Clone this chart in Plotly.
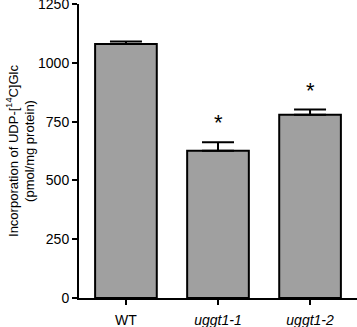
import plotly.graph_objects as go

categories = ["WT", "uggt1-1", "uggt1-2"]
tick_labels = ["WT", "<i>uggt1-1</i>", "<i>uggt1-2</i>"]
values = [1080, 626, 779]
errors = [11, 36, 22]
signif = ["", "*", "*"]

x_pos = list(range(len(categories)))

fig = go.Figure()
fig.add_trace(go.Bar(
    x=x_pos, y=values, width=0.67,
    marker=dict(color="#a0a0a0", line=dict(color="black", width=2)),
    error_y=dict(type="data", array=errors, arrayminus=[0] * len(errors),
                 symmetric=False, color="black", thickness=2, width=16),
    showlegend=False,
))
for i, s in enumerate(signif):
    if s:
        fig.add_annotation(
            x=x_pos[i], y=values[i] + errors[i], text=s, showarrow=False,
            yanchor="bottom", yshift=5,
            font=dict(size=22, color="black", family="Liberation Sans"),
        )

fig.update_layout(
    width=357, height=327,
    margin=dict(l=79, r=0, t=4, b=29),
    plot_bgcolor="white", paper_bgcolor="white",
    font=dict(family="Liberation Sans", size=14, color="black"),
    bargap=0.33,
)
fig.update_xaxes(
    range=[-0.51, 2.51], tickmode="array", tickvals=x_pos, ticktext=tick_labels,
    showline=True, linecolor="black", linewidth=2, ticks="outside",
    ticklen=5, tickwidth=2, tickcolor="black", showgrid=False, zeroline=False,
    automargin=False, ticklabelstandoff=3,
)
fig.update_yaxes(
    range=[0, 1250], tickvals=[0, 250, 500, 750, 1000, 1250],
    showline=True, linecolor="black", linewidth=2, ticks="outside",
    ticklen=5, tickwidth=2, tickcolor="black", showgrid=False, zeroline=False,
    automargin=False, ticklabeloverflow="allow",
    title=dict(text="Incorporation of UDP-[<sup>14</sup>C]Glc<br>(pmol/mg protein)",
               font=dict(size=13), standoff=0),
)

fig.write_html("out.html", config={"displayModeBar": False},
               post_script="document.body.style.margin='0';document.body.style.overflow='hidden';")
